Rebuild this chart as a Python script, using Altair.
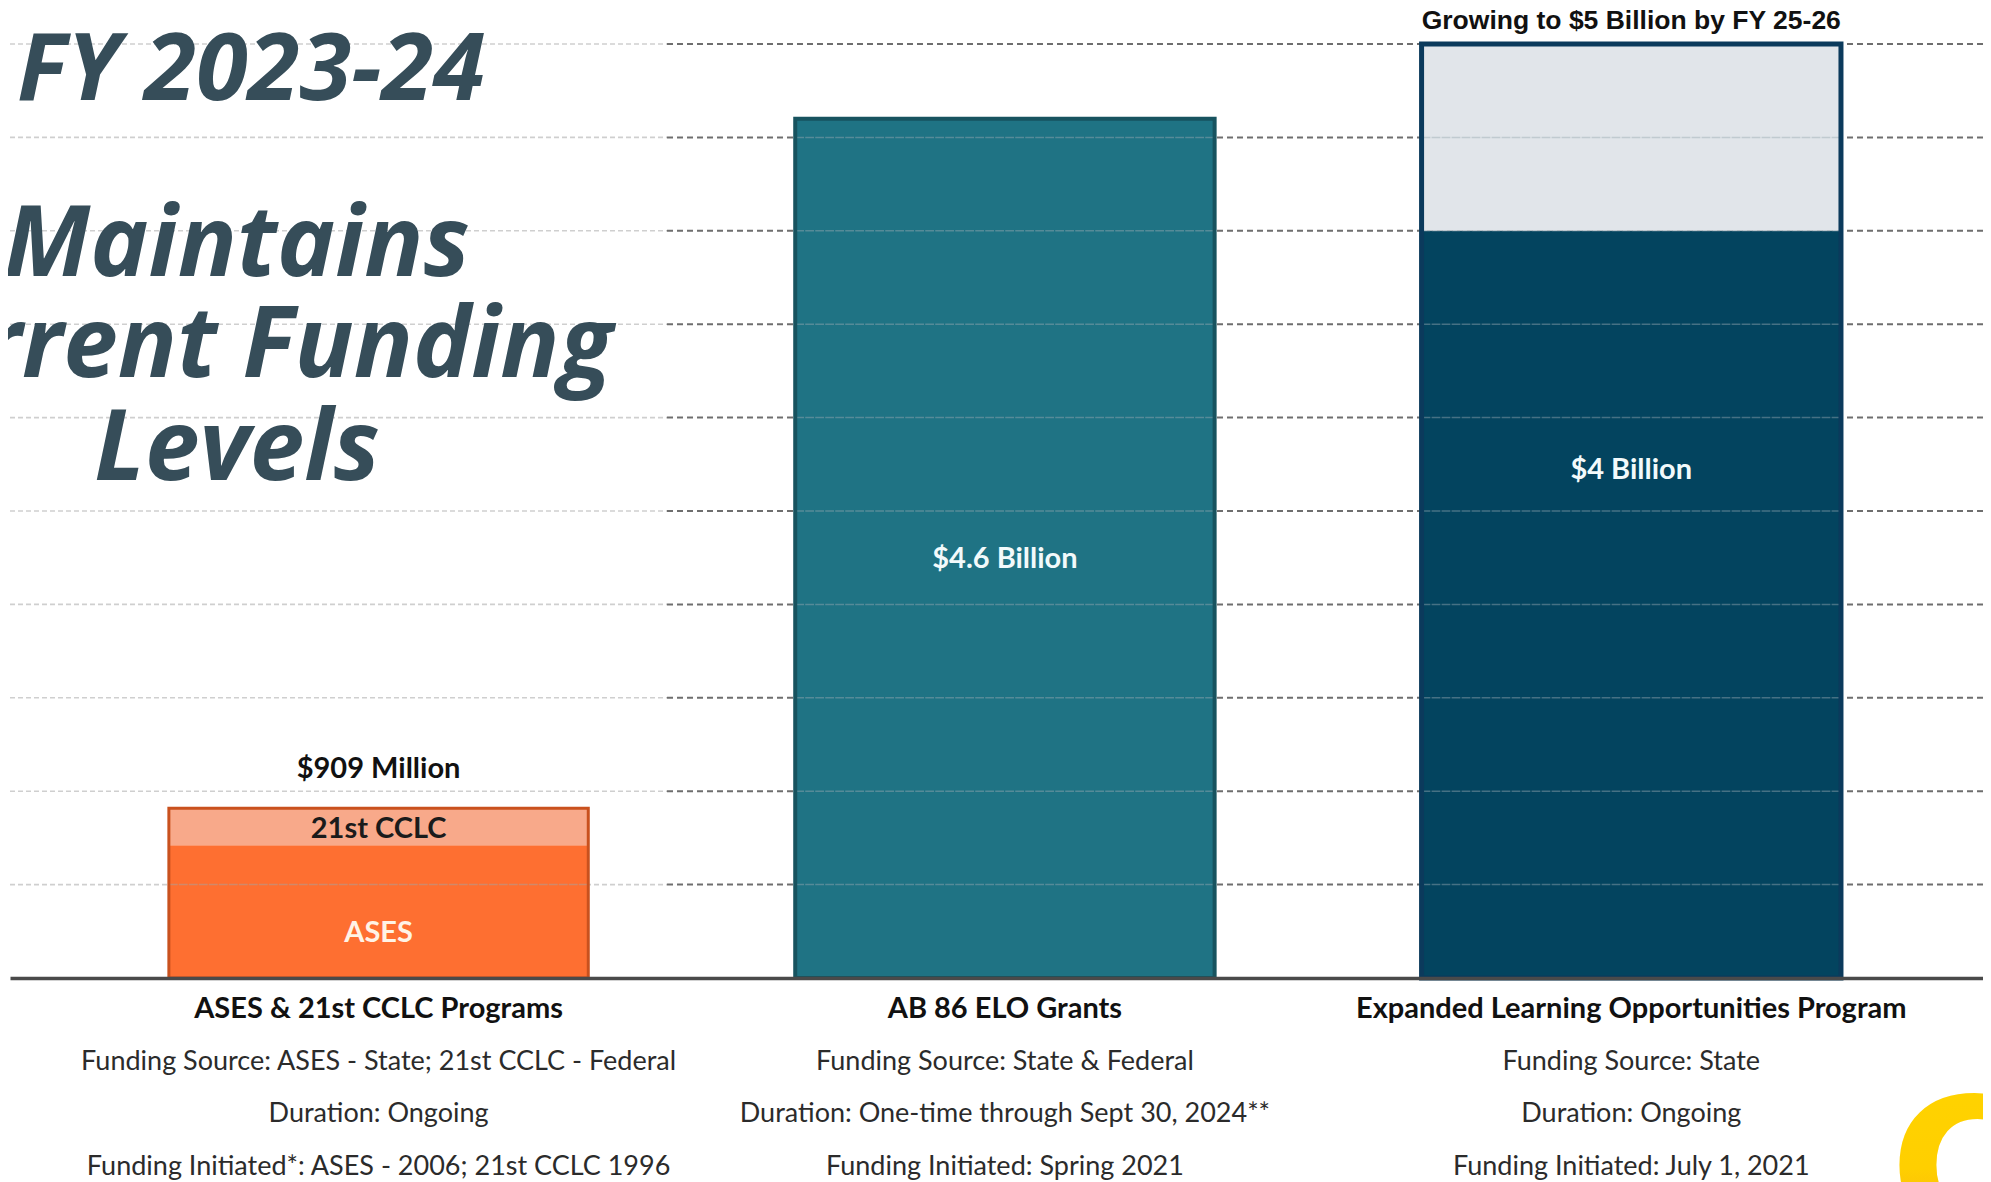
import altair as alt
import pandas as pd

# ---------------- data ----------------
programs = [
    "ASES & 21st CCLC Programs",
    "AB 86 ELO Grants",
    "Expanded Learning Opportunities Program",
]
seg_program = [programs[0], programs[0], programs[1], programs[2], programs[2]]
seg_name = ["ASES", "21st CCLC", "AB 86 ELO", "ELO-P FY 23-24", "ELO-P growth"]
seg_value = [0.71, 0.199, 4.6, 4.0, 1.0]          # $ billions
seg_label = ["ASES", "21st CCLC", "$4.6 Billion", "$4 Billion", ""]

top_label = ["$909 Million", "", "Growing to $5 Billion by FY 25-26"]
funding_source = [
    "Funding Source: ASES - State; 21st CCLC - Federal",
    "Funding Source: State & Federal",
    "Funding Source: State",
]
duration = [
    "Duration: Ongoing",
    "Duration: One-time through Sept 30, 2024**",
    "Duration: Ongoing",
]
initiated = [
    "Funding Initiated*: ASES - 2006; 21st CCLC 1996",
    "Funding Initiated: Spring 2021",
    "Funding Initiated: July 1, 2021",
]
grid_values = [0.5, 1.0, 1.5, 2.0, 2.5, 3.0, 3.5, 4.0, 4.5, 5.0]

# ---------------- styles ----------------
seg_fill = ["#FE6F31", "#F8A98A", "#1F7384", "#03445F", "#E1E5EA"]
seg_text_color = ["#FFF3E6", "#1B1B1B", "#F2FAFB", "#F2FAFB", "#FFFFFF"]
label_frac = [0.34, 0.45, 0.488, 0.68, 0.5]
outline_color = ["#C9511E", "#17535F", "#0B3A5C"]
outline_width = [3, 4, 5]
TITLE_COLOR = "#364D59"
W, H = 1973, 934
SPLIT = 657

# ---------------- frames ----------------
seg = pd.DataFrame({"program": seg_program, "segment": seg_name,
                    "value": seg_value, "label": seg_label,
                    "tcolor": seg_text_color, "frac": label_frac})
seg["end"] = seg.groupby("program")["value"].cumsum()
seg["start"] = seg["end"] - seg["value"]
seg["label_y"] = seg["start"] + seg["frac"] * seg["value"]

tot = seg.groupby("program", sort=False)["value"].sum().reindex(programs)
prog = pd.DataFrame({"program": programs, "total": tot.values,
                     "top": top_label, "src": funding_source,
                     "dur": duration, "init": initiated,
                     "ocolor": outline_color, "owidth": outline_width})
grid = pd.DataFrame({"g": grid_values})
over = pd.DataFrame([{"program": p, "g": g} for p, t in zip(programs, tot.values)
                     for g in grid_values if g < t - 0.02])

xs = alt.Scale(domain=programs, paddingInner=0.3304, paddingOuter=0.2402, align=0.528)
ys = alt.Scale(domain=[0, 5], nice=False, zero=True)
X = alt.X("program:N", sort=programs, scale=xs,
          axis=alt.Axis(title=None, labels=False, ticks=False, domain=True,
                        domainColor="#4a4a4a", domainWidth=3.5, zindex=1))

# gridlines
grid_left = alt.Chart(grid).mark_rule(color="#cfcfcf", strokeWidth=1.6, strokeDash=[5, 3]).encode(
    x=alt.value(0), x2=alt.value(SPLIT), y=alt.Y("g:Q", scale=ys, axis=None))
grid_right = alt.Chart(grid).mark_rule(color="#6e6e6e", strokeWidth=2, strokeDash=[6, 4]).encode(
    x=alt.value(SPLIT), x2=alt.value(W), y=alt.Y("g:Q", scale=ys, axis=None))

bars = alt.Chart(seg).mark_bar(strokeWidth=0).encode(
    x=X,
    y=alt.Y("start:Q", scale=ys, axis=None),
    y2="end:Q",
    color=alt.Color("segment:N", scale=alt.Scale(domain=seg_name, range=seg_fill), legend=None),
)

over_dash = alt.Chart(over).mark_bar(fillOpacity=0, stroke="#9aa8b2", strokeOpacity=0.45,
                                     strokeWidth=1.5, strokeDash=[6, 4]).encode(
    x=X, y=alt.Y("g:Q", scale=ys, axis=None), y2="g:Q")

outline = alt.Chart(prog).mark_bar(fillOpacity=0).encode(
    x=X,
    y=alt.Y("total:Q", scale=ys, axis=None),
    y2=alt.datum(0),
    stroke=alt.Stroke("ocolor:N", scale=None),
    strokeWidth=alt.StrokeWidth("owidth:Q", scale=None),
)

seg_text = alt.Chart(seg).transform_filter("datum.label != ''").mark_text(
    font="Lato", fontWeight="bold", fontSize=29, baseline="middle").encode(
    x=X, y=alt.Y("label_y:Q", scale=ys, axis=None), text="label:N",
    color=alt.Color("tcolor:N", scale=None))

top1 = alt.Chart(prog).transform_filter(f"datum.program == '{programs[0]}'").mark_text(
    font="Lato", fontWeight="bold", fontSize=29, baseline="middle", dy=-39, color="#111111").encode(
    x=X, y=alt.Y("total:Q", scale=ys, axis=None), text="top:N")
top3 = alt.Chart(prog).transform_filter(f"datum.program == '{programs[2]}'").mark_text(
    font="Liberation Sans", fontWeight="bold", fontSize=26.5, baseline="middle", dy=-23, color="#111111").encode(
    x=X, y=alt.Y("total:Q", scale=ys, axis=None), text="top:N")

name_text = alt.Chart(prog).mark_text(font="Lato", fontWeight="bold", fontSize=29,
                                      baseline="middle", dy=30.5, color="#111111").encode(
    x=X, y=alt.datum(0), text="program:N")
info_layers = []
for col, dy in [("src", 83.5), ("dur", 135.5), ("init", 188.5)]:
    info_layers.append(alt.Chart(prog).mark_text(font="Lato", fontSize=27, baseline="middle",
                                                 dy=dy, color="#2b2b2b").encode(
        x=X, y=alt.datum(0), text=f"{col}:N"))

title_lines = [("FY 2023-24", 94, 241, 56), ("Maintains", 98, 227, 232),
               ("Current Funding", 98, 227, 333), ("Levels", 98, 227, 436)]
title_layers = []
for txt, fs, tx, ty in title_lines:
    title_layers.append(alt.Chart(pd.DataFrame({"t": [txt]})).mark_text(
        font="Open Sans", fontWeight="bold", fontStyle="italic", fontSize=fs,
        align="center", baseline="alphabetic", color=TITLE_COLOR).encode(
        x=alt.value(tx), y=alt.value(ty), text="t:N"))

logo = alt.Chart(pd.DataFrame({"t": ["C"]})).mark_text(
    font="DejaVu Sans", fontWeight="bold", fontSize=190, align="left", baseline="alphabetic",
    fill=alt.Gradient(gradient="linear", x1=0, x2=0, y1=0, y2=1,
                      stops=[alt.GradientStop(color="#FFD400", offset=0),
                             alt.GradientStop(color="#FFCF00", offset=0.5),
                             alt.GradientStop(color="#F39A1E", offset=1)])).encode(
    x=alt.value(1880), y=alt.value(1190), text="t:N")

chart = alt.layer(grid_left, grid_right, bars, over_dash, outline, seg_text, top1, top3,
                  name_text, *info_layers, *title_layers, logo).properties(
    width=W, height=H,
    autosize=alt.AutoSizeParams(type="none"),
    padding={"left": 2, "top": 36, "right": 0, "bottom": 204},
    background="white",
).configure_view(stroke=None)

chart.save("out.html", embed_options={"renderer": "svg", "actions": False})
